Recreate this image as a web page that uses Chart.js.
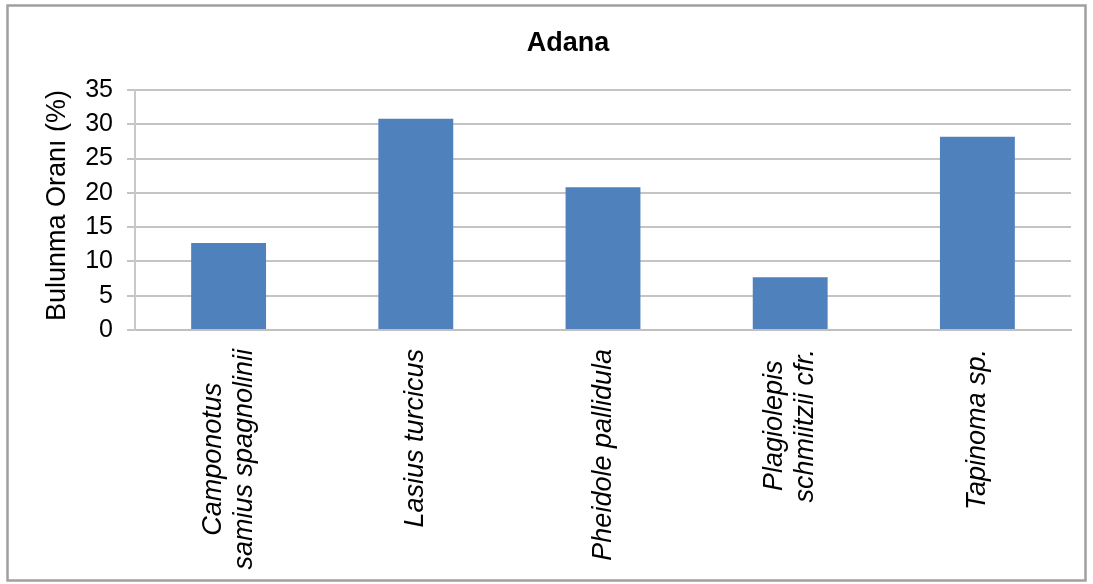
<!DOCTYPE html>
<html>
<head>
<meta charset="utf-8">
<script src="https://cdn.jsdelivr.net/npm/chart.js@4.4.1/dist/chart.umd.min.js"></script>
<style>
  html, body { margin: 0; padding: 0; background: #ffffff; }
  #wrap { position: relative; width: 1093px; height: 584px; }
</style>
</head>
<body>
<div id="wrap"><canvas id="c" width="1093" height="584"></canvas></div>
<script>
// ---- data ----
const chartTitle = "Adana";
const yAxisTitle = "Bulunma Oranı (%)";
const categories = [
  ["Camponotus", "samius spagnolinii"],
  ["Lasius turcicus"],
  ["Pheidole pallidula"],
  ["Plagiolepis", "schmiitzii cfr."],
  ["Tapinoma sp."]
];
const values = [12.7, 30.8, 20.8, 7.7, 28.2];
const yTicks = [0, 5, 10, 15, 20, 25, 30, 35];

const FONT = "'Liberation Sans', Arial, sans-serif";

const frameAndText = {
  id: 'frameAndText',
  beforeDraw(chart) {
    const ctx = chart.ctx;
    ctx.save();
    ctx.fillStyle = '#ffffff';
    ctx.fillRect(0, 0, chart.width, chart.height);
    ctx.strokeStyle = '#a0a0a0';
    ctx.lineWidth = 2.5;
    ctx.strokeRect(7.5, 5.5, 1078, 575);
    ctx.restore();
  },
  afterDraw(chart) {
    const ctx = chart.ctx;
    const xs = chart.scales.x;
    ctx.save();
    // chart title
    ctx.fillStyle = '#000000';
    ctx.font = "bold 27px " + FONT;
    ctx.textAlign = 'center';
    ctx.textBaseline = 'middle';
    ctx.fillText(chartTitle, 568, 44);
    // category labels, rotated, lines centred on each other
    ctx.font = "italic 27px " + FONT;
    const lh = 31;
    const top = 349;
    categories.forEach((lines, i) => {
      const x = xs.getPixelForValue(i);
      const widths = lines.map(l => ctx.measureText(l).width);
      const maxW = Math.max(...widths);
      ctx.save();
      ctx.translate(x, top);
      ctx.rotate(-Math.PI / 2);
      ctx.textAlign = 'center';
      ctx.textBaseline = 'middle';
      lines.forEach((l, j) => {
        ctx.fillText(l, -maxW / 2, (j - (lines.length - 1) / 2) * lh);
      });
      ctx.restore();
    });
    ctx.restore();
  }
};

new Chart(document.getElementById('c'), {
  type: 'bar',
  data: {
    labels: categories,
    datasets: [{
      data: values,
      backgroundColor: '#4f81bd',
      borderWidth: 0,
      barPercentage: 0.4,
      categoryPercentage: 1.0
    }]
  },
  options: {
    responsive: false,
    animation: false,
    layout: { padding: { left: 0, right: 22, top: 90, bottom: 0 } },
    plugins: {
      legend: { display: false },
      title: { display: false },
      tooltip: { enabled: false }
    },
    scales: {
      x: {
        grid: { display: false },
        border: { display: true, color: '#c0c0c0', width: 2 },
        ticks: { display: false },
        afterFit(s) { s.height = 254; }
      },
      y: {
        min: 0,
        max: 35,
        afterBuildTicks(s) { s.ticks = yTicks.map(v => ({ value: v })); },
        grid: { color: '#c4c4c4', lineWidth: 2, tickLength: 8, drawTicks: true },
        border: { display: true, color: '#c8c8c8', width: 2 },
        ticks: {
          color: '#000000',
          padding: 14,
          font: { family: FONT, size: 25 }
        },
        title: {
          display: true,
          text: yAxisTitle,
          align: 'end',
          color: '#000000',
          font: { family: FONT, size: 27 },
          padding: { top: 41, bottom: 0 }
        },
        afterFit(s) { s.width = 135; }
      }
    }
  },
  plugins: [frameAndText]
});
</script>
</body>
</html>
